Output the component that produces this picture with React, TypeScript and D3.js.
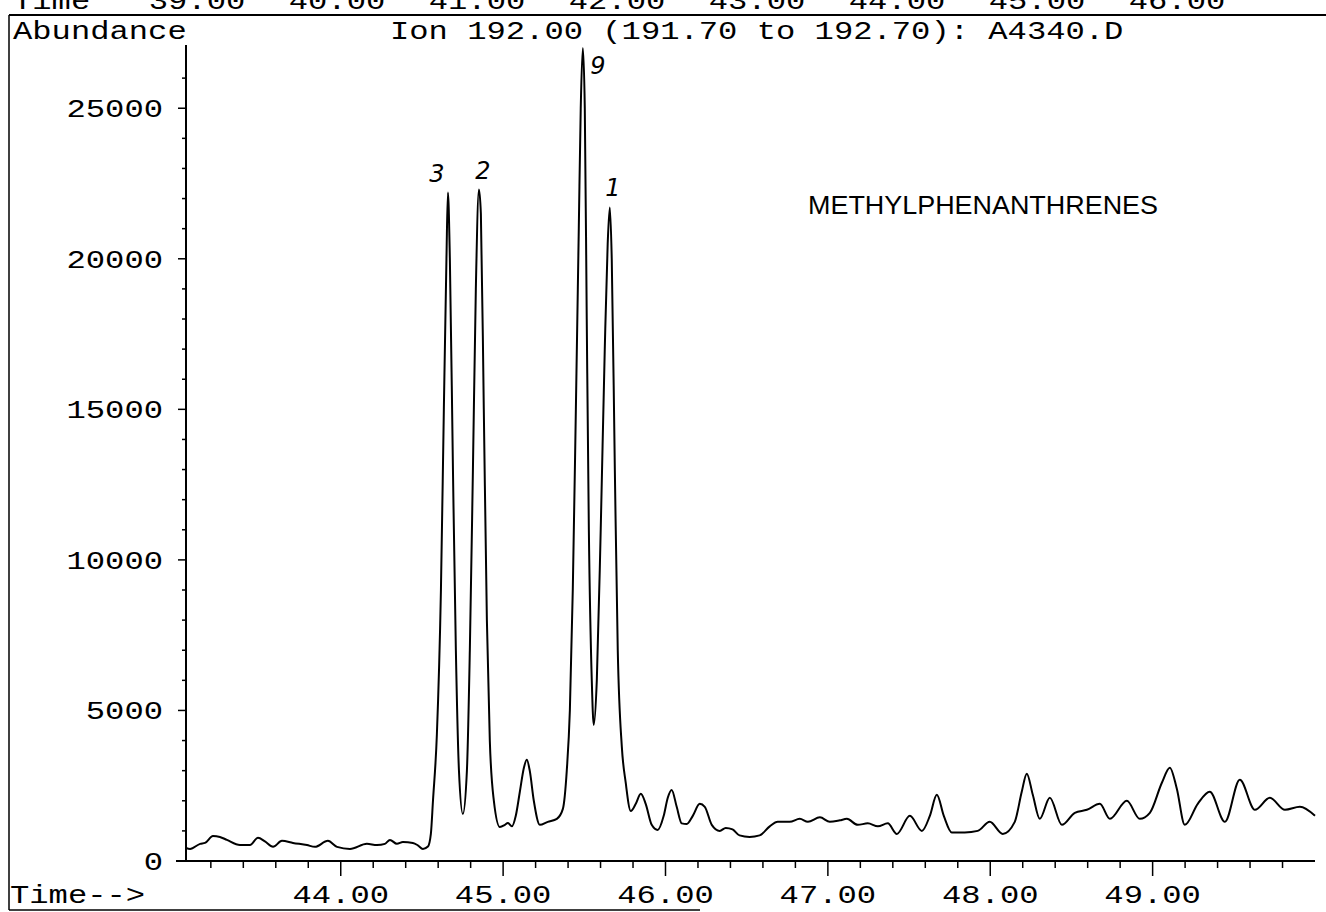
import React, { useEffect, useRef } from 'react';
import * as d3 from 'd3';

// retention time (min) and abundance
const times = [
  43.047, 43.072, 43.134, 43.164, 43.213, 43.256, 43.299, 43.379, 43.441, 43.490,
  43.533, 43.583, 43.638, 43.706, 43.792, 43.841, 43.921, 43.977, 44.057, 44.161,
  44.223, 44.272, 44.303, 44.346, 44.383, 44.444, 44.475, 44.506, 44.537, 44.555,
  44.568, 44.592, 44.617, 44.635, 44.651, 44.660, 44.672, 44.691, 44.709, 44.728,
  44.752, 44.777, 44.795, 44.814, 44.832, 44.851, 44.863, 44.881, 44.900, 44.918,
  44.943, 44.980, 45.011, 45.029, 45.054, 45.078, 45.103, 45.128, 45.146, 45.164,
  45.189, 45.226, 45.275, 45.331, 45.368, 45.392, 45.411, 45.429, 45.448, 45.466,
  45.478, 45.491, 45.503, 45.515, 45.528, 45.546, 45.558, 45.577, 45.601, 45.626,
  45.644, 45.657, 45.669, 45.688, 45.706, 45.731, 45.755, 45.786, 45.817, 45.848,
  45.878, 45.915, 45.952, 45.989, 46.014, 46.038, 46.069, 46.100, 46.131, 46.168,
  46.211, 46.242, 46.285, 46.334, 46.371, 46.413, 46.456, 46.518, 46.580, 46.642,
  46.691, 46.765, 46.827, 46.877, 46.951, 47.012, 47.074, 47.117, 47.184, 47.246,
  47.308, 47.369, 47.425, 47.505, 47.579, 47.628, 47.671, 47.714, 47.763, 47.843,
  47.923, 47.997, 48.077, 48.151, 48.194, 48.225, 48.262, 48.305, 48.367, 48.441,
  48.521, 48.595, 48.675, 48.737, 48.841, 48.921, 48.983, 49.057, 49.106, 49.149,
  49.198, 49.278, 49.352, 49.445, 49.537, 49.630, 49.722, 49.815, 49.907, 50.0,
];
const abundance = [
  430, 400, 570, 600, 830, 800, 700, 530, 530, 770,
  650, 470, 670, 600, 530, 470, 670, 470, 400, 570,
  530, 570, 700, 570, 630, 600, 520, 400, 480, 900,
  2000, 4200, 9000, 15000, 20000, 22200, 20000, 13000, 7000, 3000,
  1560, 3000, 7000, 13000, 19000, 22300, 21500, 15000, 8000, 4000,
  2000, 1130, 1200, 1260, 1150, 1500, 2300, 3100, 3360, 3000,
  2000, 1200, 1300, 1400, 1730, 3000, 5000, 9000, 15000, 21000,
  25000, 27000, 25000, 18000, 11000, 6000, 4520, 6000, 11000, 17000,
  20500, 21700, 20000, 13000, 7000, 3800, 2600, 1660, 1900, 2230,
  1900, 1200, 1030, 1500, 2100, 2360, 1800, 1250, 1230, 1500,
  1900, 1800, 1200, 1000, 1100, 1050, 850, 800, 850, 1150,
  1300, 1300, 1400, 1300, 1450, 1300, 1350, 1400, 1200, 1250,
  1150, 1250, 900, 1500, 1000, 1500, 2200, 1500, 950, 950,
  1000, 1300, 900, 1300, 2300, 2900, 2200, 1400, 2100, 1200,
  1600, 1700, 1900, 1400, 2000, 1400, 1600, 2600, 3100, 2400,
  1200, 1900, 2300, 1300, 2700, 1700, 2100, 1700, 1800, 1500,
];

const xTickValues = [44, 45, 46, 47, 48, 49];
const yTickValues = [0, 5000, 10000, 15000, 20000, 25000];
const headerLabels = ['39.00', '40.00', '41.00', '42.00', '43.00', '44.00', '45.00', '46.00'];

// hand-written peak numbers (time, abundance where the mark sits)
const peakMarks = ['3', '2', '9', '1'];
const peakMarkTimes = [44.592, 44.876, 45.584, 45.676];
const peakMarkValues = [22850, 22940, 26435, 22380];

const compoundName = 'METHYLPHENANTHRENES';
const title = 'Ion 192.00 (191.70 to 192.70): A4340.D';

const W = 1326;
const H = 912;
const CHAR = 19.3; // typewriter advance

export default function App() {
  const ref = useRef<SVGSVGElement>(null);

  useEffect(() => {
    if (!ref.current) return;
    const svg = d3.select(ref.current);
    svg.selectAll('*').remove();

    const x = d3.scaleLinear().domain([43.047, 50.0]).range([186, 1315]);
    const y = d3.scaleLinear().domain([0, 27100]).range([861, 45]);

    const mono = (px: number, py: number, s: string, anchor = 'start') =>
      svg.append('text')
        .attr('x', px)
        .attr('y', py)
        .attr('font-family', '"Liberation Mono", monospace')
        .attr('font-size', 26)
        .attr('textLength', s.length * CHAR)
        .attr('lengthAdjust', 'spacingAndGlyphs')
        .attr('text-anchor', anchor)
        .attr('fill', '#000')
        .text(s);

    // frame of the printout
    svg.append('line').attr('x1', 9).attr('x2', W).attr('y1', 15).attr('y2', 15)
      .attr('stroke', '#000').attr('stroke-width', 2);
    svg.append('line').attr('x1', 9).attr('x2', 9).attr('y1', 15).attr('y2', 910)
      .attr('stroke', '#000').attr('stroke-width', 1.5);
    svg.append('line').attr('x1', 9).attr('x2', 700).attr('y1', 910).attr('y2', 910)
      .attr('stroke', '#000').attr('stroke-width', 1.5);

    // header of the previous panel, cut off at the top
    mono(13, 9, 'Time');
    headerLabels.forEach((s, i) => mono(197 + i * 140, 9, s, 'middle'));

    mono(13, 39, 'Abundance');
    mono(390, 39, title);

    // y axis
    const yAxis = svg.append('g');
    yAxis.append('line').attr('x1', 186).attr('x2', 186).attr('y1', 45).attr('y2', 861)
      .attr('stroke', '#000').attr('stroke-width', 2);
    d3.range(1000, 27000, 1000).forEach(v => {
      const major = v % 5000 === 0;
      yAxis.append('line').attr('x1', 186 - (major ? 8 : 4)).attr('x2', 186)
        .attr('y1', y(v)).attr('y2', y(v)).attr('stroke', '#000').attr('stroke-width', 1.5);
    });
    yTickValues.forEach(v => {
      mono(163, y(v) + 9, String(v), 'end');
    });

    // x axis
    const xAxis = svg.append('g');
    xAxis.append('line').attr('x1', 176).attr('x2', 1315).attr('y1', 861).attr('y2', 861)
      .attr('stroke', '#000').attr('stroke-width', 2);
    d3.range(432, 500, 2).map(d => d / 10).forEach(t => {
      const major = Math.abs(t - Math.round(t)) < 1e-6;
      xAxis.append('line').attr('x1', x(t)).attr('x2', x(t))
        .attr('y1', 861).attr('y2', 861 + (major ? 15 : 7))
        .attr('stroke', '#000').attr('stroke-width', 1.5);
    });
    xTickValues.forEach(t => mono(x(t), 903, t.toFixed(2), 'middle'));
    mono(10, 903, 'Time-->');

    // chromatogram trace
    const line = d3.line<number>()
      .x((_, i) => x(times[i]))
      .y(d => y(d))
      .curve(d3.curveMonotoneX);
    svg.append('path')
      .datum(abundance)
      .attr('d', line)
      .attr('fill', 'none')
      .attr('stroke', '#000')
      .attr('stroke-width', 2)
      .attr('stroke-linejoin', 'round');

    // pen annotations
    peakMarks.forEach((s, i) => {
      svg.append('text')
        .attr('x', x(peakMarkTimes[i]))
        .attr('y', y(peakMarkValues[i]) + 9)
        .attr('text-anchor', 'middle')
        .attr('font-family', '"DejaVu Sans", sans-serif')
        .attr('font-style', 'italic')
        .attr('font-size', 24)
        .attr('fill', '#000')
        .text(s);
    });

    svg.append('text')
      .attr('x', 808)
      .attr('y', 214)
      .attr('font-family', '"Liberation Sans", Arial, sans-serif')
      .attr('font-size', 25)
      .attr('textLength', 350)
      .attr('lengthAdjust', 'spacingAndGlyphs')
      .attr('fill', '#000')
      .text(compoundName);
  }, []);

  return (
    <svg
      ref={ref}
      width={W}
      height={H}
      style={{ position: 'absolute', left: 0, top: 0, background: '#fff' }}
    />
  );
}
